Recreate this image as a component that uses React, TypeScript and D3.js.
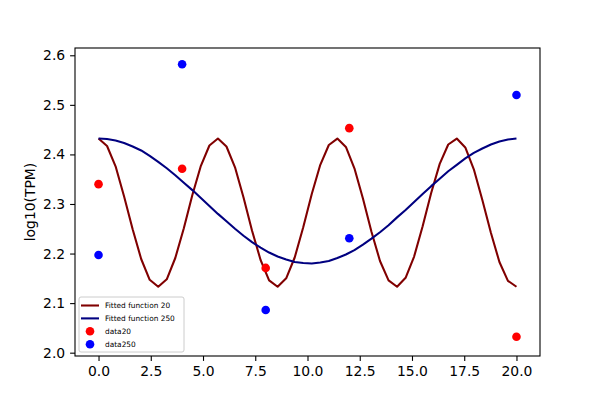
import { useEffect, useRef } from 'react';
import * as d3 from 'd3';

// sample points of the two fitted curves
const fitX = [
  0, 0.408, 0.816, 1.224, 1.633, 2.041, 2.449, 2.857, 3.265, 3.673,
  4.082, 4.49, 4.898, 5.306, 5.714, 6.122, 6.531, 6.939, 7.347, 7.755,
  8.163, 8.571, 8.98, 9.388, 9.796, 10.204, 10.612, 11.02, 11.429, 11.837,
  12.245, 12.653, 13.061, 13.469, 13.878, 14.286, 14.694, 15.102, 15.51, 15.918,
  16.327, 16.735, 17.143, 17.551, 17.959, 18.367, 18.776, 19.184, 19.592, 20,
];
const fit20 = [
  2.432, 2.417, 2.376, 2.315, 2.249, 2.189, 2.147, 2.133, 2.148, 2.191,
  2.251, 2.318, 2.377, 2.418, 2.432, 2.416, 2.374, 2.313, 2.246, 2.187,
  2.146, 2.133, 2.15, 2.192, 2.253, 2.32, 2.379, 2.419, 2.432, 2.415,
  2.372, 2.311, 2.244, 2.185, 2.146, 2.133, 2.151, 2.194, 2.255, 2.322,
  2.381, 2.42, 2.432, 2.414, 2.37, 2.308, 2.242, 2.183, 2.145, 2.133,
];
const fit250 = [
  2.432, 2.431, 2.428, 2.423, 2.416, 2.408, 2.397, 2.385, 2.372, 2.358,
  2.343, 2.328, 2.312, 2.296, 2.28, 2.265, 2.25, 2.236, 2.223, 2.212,
  2.202, 2.194, 2.188, 2.183, 2.181, 2.18, 2.182, 2.185, 2.191, 2.198,
  2.207, 2.218, 2.23, 2.243, 2.257, 2.273, 2.288, 2.304, 2.32, 2.336,
  2.351, 2.366, 2.379, 2.392, 2.403, 2.412, 2.42, 2.426, 2.43, 2.432,
];

const dataX = [0, 4, 8, 12, 20];
const data20 = [2.34, 2.371, 2.171, 2.453, 2.032];
const data250 = [2.197, 2.582, 2.086, 2.231, 2.52];

const xTicks = [0, 2.5, 5, 7.5, 10, 12.5, 15, 17.5, 20];
const yTicks = [2.0, 2.1, 2.2, 2.3, 2.4, 2.5, 2.6];

const legendItems = [
  { label: 'Fitted function 20', color: '#800000', kind: 'line' },
  { label: 'Fitted function 250', color: '#000080', kind: 'line' },
  { label: 'data20', color: 'red', kind: 'dot' },
  { label: 'data250', color: 'blue', kind: 'dot' },
];

export default function App() {
  const svgRef = useRef<SVGSVGElement>(null);

  useEffect(() => {
    if (!svgRef.current) return;
    const svg = d3.select(svgRef.current);
    svg.selectAll('*').remove();

    const left = 75, right = 540, top = 48, bottom = 356;
    const font = 'DejaVu Sans, sans-serif';

    const x = d3.scaleLinear().domain([-1.126, 21.126]).range([left, right]);
    const y = d3.scaleLinear().domain([1.9933, 2.6147]).range([bottom, top]);

    svg.append('rect').attr('width', 600).attr('height', 400).attr('fill', '#fff');

    const line = d3.line<number>()
      .x((_, i) => x(fitX[i]))
      .y(d => y(d));

    svg.append('path')
      .datum(fit20)
      .attr('fill', 'none')
      .attr('stroke', '#800000')
      .attr('stroke-width', 2.08)
      .attr('stroke-linejoin', 'round')
      .attr('d', line);

    svg.append('path')
      .datum(fit250)
      .attr('fill', 'none')
      .attr('stroke', '#000080')
      .attr('stroke-width', 2.08)
      .attr('stroke-linejoin', 'round')
      .attr('d', line);

    svg.append('g').selectAll('circle')
      .data(data20)
      .join('circle')
      .attr('cx', (_, i) => x(dataX[i]))
      .attr('cy', d => y(d))
      .attr('r', 4.3)
      .attr('fill', 'red');

    svg.append('g').selectAll('circle')
      .data(data250)
      .join('circle')
      .attr('cx', (_, i) => x(dataX[i]))
      .attr('cy', d => y(d))
      .attr('r', 4.3)
      .attr('fill', 'blue');

    // axes
    const xAxis = svg.append('g')
      .attr('transform', `translate(0,${bottom})`)
      .call(d3.axisBottom(x).tickValues(xTicks).tickFormat(d3.format('.1f')).tickSize(4.9).tickSizeOuter(0).tickPadding(4.9));
    const yAxis = svg.append('g')
      .attr('transform', `translate(${left},0)`)
      .call(d3.axisLeft(y).tickValues(yTicks).tickFormat(d3.format('.1f')).tickSize(4.9).tickSizeOuter(0).tickPadding(4.9));

    for (const ax of [xAxis, yAxis]) {
      ax.select('.domain').remove();
      ax.selectAll('line').attr('stroke', '#000').attr('stroke-width', 1.1);
      ax.selectAll('text').attr('fill', '#000').style('font-family', font).style('font-size', '13.9px');
    }

    svg.append('rect')
      .attr('x', left).attr('y', top)
      .attr('width', right - left).attr('height', bottom - top)
      .attr('fill', 'none').attr('stroke', '#000').attr('stroke-width', 1.1);

    svg.append('text')
      .attr('transform', `translate(35,${(top + bottom) / 2}) rotate(-90)`)
      .attr('text-anchor', 'middle')
      .style('font-family', font)
      .style('font-size', '13.9px')
      .text('log10(TPM)');

    // legend
    const lg = svg.append('g').attr('transform', 'translate(79,297)');
    lg.append('rect')
      .attr('width', 105).attr('height', 55).attr('rx', 2)
      .attr('fill', '#fff').attr('fill-opacity', 0.8)
      .attr('stroke', '#ccc').attr('stroke-width', 1);

    legendItems.forEach((item, i) => {
      const cy = 8.5 + i * 12.9;
      if (item.kind === 'line') {
        lg.append('line')
          .attr('x1', 2).attr('x2', 20).attr('y1', cy).attr('y2', cy)
          .attr('stroke', item.color).attr('stroke-width', 2.08);
      } else {
        lg.append('circle').attr('cx', 11).attr('cy', cy).attr('r', 4.3).attr('fill', item.color);
      }
      lg.append('text')
        .attr('x', 26).attr('y', cy).attr('dy', '0.35em')
        .style('font-family', font).style('font-size', '7.4px')
        .text(item.label);
    });
  }, []);

  return (
    <svg ref={svgRef} width={600} height={400} viewBox="0 0 600 400"
      style={{ position: 'absolute', left: 0, top: 0 }} />
  );
}
